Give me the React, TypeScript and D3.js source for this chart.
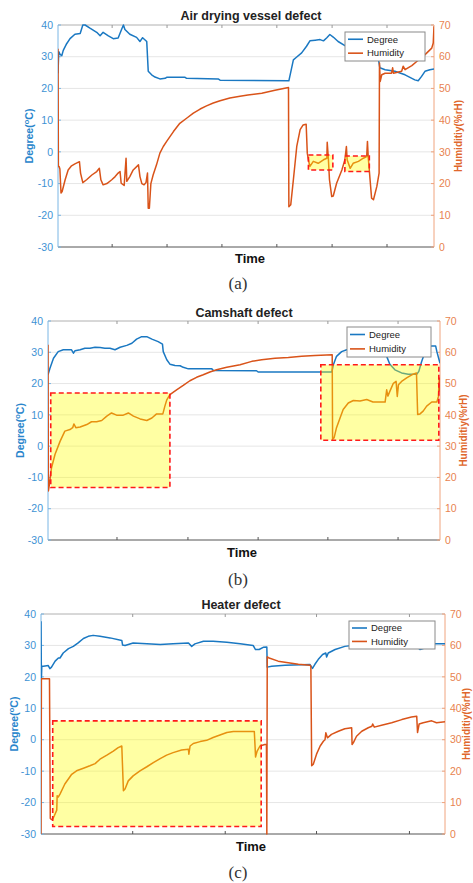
import React from "react";
import * as d3 from "d3";

const DEG_TICKS = [-30, -20, -10, 0, 10, 20, 30, 40];
const HUM_TICKS = [0, 10, 20, 30, 40, 50, 60, 70];
const SERIES_NAMES = ["Degree", "Humidity"];
const TITLES = ["Air drying vessel defect", "Camshaft defect", "Heater defect"];
const CAPTIONS = ["(a)", "(b)", "(c)"];
const TIME_LABEL = "Time";
const X_TICKS_A = [14.4, 29, 43.6, 58.2, 72.9, 87.5];
const X_TICKS_B = [17.6, 35.7, 53.6, 71.4, 89.3];
const X_TICKS_C = [22.7, 45.6, 68.2, 91.2];

type P = [number, number];

const degreeA: P[] = [
  [0, 24.8], [0.2, 31.6], [0.5, 30.8], [1.0, 30.3], [1.4, 32], [2.3, 34.1], [3.2, 35.7], [4.5, 37.1],
  [5.9, 37.3], [6.6, 40], [7.2, 40], [8.5, 39], [10.3, 37.7], [11.2, 36.6], [12.0, 37.7], [13.4, 36.6],
  [14.7, 35.7], [16.0, 35.9], [16.9, 38.6], [17.4, 40], [17.8, 38.6], [19.1, 37.1], [20.9, 36.1],
  [21.8, 34.8], [22.5, 36], [23.6, 34.8], [24.0, 25.4], [24.9, 24.3], [25.8, 23.6], [27.1, 23],
  [28.5, 23.2], [28.9, 23.5], [33.8, 23.5], [34.2, 23.2], [42.6, 23], [43.1, 22.6], [61.4, 22.4],
  [62.6, 29], [63.5, 29.9], [64.8, 31.2], [66.1, 33.3], [67.0, 35], [68.4, 35.2], [69.7, 35.4],
  [70.6, 35], [71.5, 36], [72.3, 37], [73.2, 36.2], [74.5, 34.8], [76.3, 33.5], [81.6, 31], [85.1, 30],
  [85.6, 26.5], [87.0, 25.9], [89.6, 25.4], [92.3, 24.3], [94.9, 22.7], [95.8, 22.4], [96.7, 23.8],
  [97.6, 25.4], [98.9, 25.9], [100, 26.1],
];

const humidityA: P[] = [
  [0, 62.5], [0.1, 25.4], [0.3, 25.4], [0.5, 24.6], [0.8, 17], [1.1, 17.5], [1.9, 21.2], [2.7, 24.3],
  [3.6, 25.6], [4.5, 26.2], [5.7, 26.9], [6.0, 23.3], [6.6, 20.3], [7.6, 21.2], [9.0, 22.7], [10.3, 23.8],
  [11.0, 24.8], [11.4, 21.2], [12.0, 19.6], [13.0, 20], [14.3, 21.2], [15.2, 22.2], [16.0, 23.3],
  [16.5, 23.8], [16.8, 20.1], [17.6, 19.4], [18.1, 28], [18.3, 20.7], [19.1, 22.2], [20.0, 24.3],
  [21.4, 25.9], [21.8, 22.2], [22.3, 20], [22.9, 19.6], [23.4, 20.3], [23.8, 23.3], [24.0, 12.2],
  [24.3, 12.2], [24.7, 20], [25.3, 22.7], [26.2, 25.9], [27.1, 29.6], [28.0, 31.7], [28.9, 33.3],
  [30.7, 36.4], [32.4, 39], [34.2, 40.6], [36.0, 42.2], [37.8, 43.5], [39.5, 44.5], [41.3, 45.4],
  [43.1, 46.1], [45.7, 47], [48.4, 47.5], [50.5, 47.9], [54.2, 48.5], [57.7, 49.4], [61.3, 50.3],
  [61.4, 12.7], [61.9, 13.3], [62.6, 21.2], [63.5, 31.7], [64.4, 37], [65.2, 38.5], [66.0, 38.7],
  [66.3, 29.6], [66.6, 27.5], [67.0, 25.4], [67.9, 27], [69.2, 26.4], [70.6, 27.5], [71.5, 28],
  [71.6, 33], [71.9, 28], [72.2, 21.2], [72.8, 15.9], [73.2, 16.1], [74.1, 20.1], [75.5, 24.3],
  [76.3, 27.5], [76.7, 31.7], [76.9, 27.5], [77.7, 24.8], [78.5, 26.4], [79.9, 27], [81.2, 28],
  [82.1, 28.5], [82.3, 33.3], [82.5, 28.5], [83.0, 21.2], [83.4, 15.4], [83.9, 14.9], [84.8, 19.1],
  [85.4, 23.3], [85.5, 58], [85.7, 52.2], [86.1, 54.3], [87.0, 54.8], [88.7, 54.8], [89.0, 56.5],
  [89.2, 54.8], [91.4, 55.4], [91.8, 57], [92.3, 55.9], [94.1, 57.2], [95.4, 58.5], [96.7, 59.6],
  [98.1, 61.2], [99.4, 62.7], [99.8, 64.3], [100, 69.6],
];

const degreeB: P[] = [
  [0, 22.8], [0.5, 24.9], [1.4, 28.1], [2.6, 30.2], [3.9, 30.8], [6.0, 30.8], [6.5, 29.7], [6.9, 30.5],
  [8.2, 30.8], [9.4, 31.3], [10.7, 31.3], [12.0, 31.6], [13.3, 31.5], [14.5, 31.3], [15.8, 31.3],
  [17.1, 30.8], [18.4, 31.6], [20.1, 32.2], [21.4, 32.9], [22.6, 34.2], [23.9, 35], [25.2, 35],
  [26.5, 34.2], [28.1, 33.4], [29.2, 32.6], [29.4, 30.2], [30.3, 27.6], [31.1, 26.2], [32.4, 25.8],
  [33.7, 25.7], [34.5, 25.2], [35.8, 24.7], [41.8, 24.7], [42.2, 24.2], [53.2, 24.1], [53.6, 23.7],
  [72.4, 23.7], [72.8, 26], [73.6, 28.7], [74.9, 30.2], [76.2, 30.8], [79.6, 31], [84.2, 31],
  [85.5, 30.5], [86.4, 28.7], [87.2, 26.2], [88.5, 24.4], [90.2, 23.4], [91.9, 23], [94.1, 23],
  [94.6, 23.9], [95.3, 27], [96.2, 30.2], [96.6, 31.8], [97.9, 32], [98.9, 32], [99.2, 30.2], [100, 26.5],
];

const humidityB: P[] = [
  [0, 62.4], [0.1, 15.7], [0.3, 17.3], [0.9, 23.1], [1.8, 27.4], [3.1, 31.6], [4.3, 34.8], [5.6, 35.3],
  [6.3, 35.9], [6.6, 37.1], [7.1, 35.9], [8.2, 36.1], [9.9, 36.9], [11.1, 37.8], [12.4, 37.8],
  [13.7, 38.2], [15.0, 39.6], [16.2, 40.6], [17.5, 39.9], [19.2, 39.9], [20.5, 40.6], [21.8, 39.6],
  [23.5, 38.7], [25.2, 38.2], [26.5, 39], [27.7, 40.3], [28.6, 40.3], [29.3, 40.3], [29.8, 42.7],
  [30.3, 44.8], [31.1, 46.5], [32.8, 48], [34.5, 49.4], [36.2, 50.9], [37.9, 52], [39.6, 52.8],
  [41.3, 53.7], [43.0, 54.4], [45.6, 55.2], [49.0, 56], [52.0, 57.1], [54.5, 57.6], [57.9, 58.1],
  [61.3, 58.3], [64.7, 58.7], [68.1, 59], [72.5, 59.2], [72.6, 32.2], [73.0, 32.7], [73.6, 35.9],
  [74.5, 39], [75.3, 41.7], [76.6, 43.8], [77.9, 44.6], [79.6, 44.4], [81.3, 44.9], [82.9, 44.1],
  [86.0, 44.1], [86.4, 48], [86.7, 46], [87.2, 47.5], [88.1, 50.1], [88.8, 50.7], [89.1, 45.9],
  [89.4, 49.6], [90.2, 50.7], [91.5, 51.8], [92.8, 52.8], [94.0, 53.4], [94.3, 40.1], [94.9, 40.3],
  [95.7, 41.2], [96.6, 42.8], [97.9, 44.1], [99.2, 44.1], [99.6, 45.9], [99.8, 51.8], [100, 47.5],
];

const degreeC: P[] = [
  [0, 37.7], [0.1, 19.3], [0.2, 23.4], [0.6, 23.4], [1.8, 23.6], [2.2, 22.6], [2.6, 23.1], [3.5, 25],
  [4.3, 26], [4.7, 26], [5.5, 27.6], [6.8, 29], [8.0, 29.7], [9.2, 30.8], [10.5, 32.2], [11.7, 32.9],
  [12.9, 33.2], [14.6, 32.9], [17.1, 32.4], [20.0, 31.6], [20.2, 30.1], [20.8, 30], [22.8, 30.8],
  [26.2, 30.5], [29.5, 30.3], [32.7, 30.5], [36.5, 30.8], [37.3, 29.7], [38.1, 30.5], [40.2, 31.3],
  [42.6, 31.3], [46.0, 31], [49.3, 30.5], [52.5, 30], [53.1, 28.7], [54.0, 28.7], [55.0, 29.4],
  [55.9, 29.5], [56.0, 23.1], [57.1, 23.4], [60.4, 23.7], [66.6, 23.9], [67.2, 22.7], [67.8, 24],
  [68.6, 25.5], [69.7, 27.1], [70.5, 27.6], [70.7, 26.3], [71.1, 27.6], [72.8, 28.7], [75.2, 29.7],
  [78.9, 30.3], [88.9, 30.3], [92.6, 30], [93.8, 28.7], [94.6, 29], [95.5, 30.3], [97.5, 30.5], [100, 30.5],
];

const humidityC: P[] = [
  [0, 0], [0.1, 49.4], [2.1, 49.4], [2.3, 5], [2.4, 4.8], [2.8, 4.5], [3.3, 5.8], [3.9, 7.6], [4.0, 12.2],
  [4.3, 11.8], [4.7, 12.7], [5.9, 15.9], [7.6, 19], [8.8, 20.1], [10.5, 20.9], [12.1, 21.7], [13.4, 22.4],
  [14.6, 23.8], [16.3, 25.1], [17.9, 26.4], [19.1, 27.5], [20.0, 28], [20.4, 13.8], [20.8, 14.3],
  [21.6, 16.9], [22.8, 18.5], [24.5, 20.1], [26.2, 21.4], [27.8, 22.7], [29.5, 24], [31.1, 25.1],
  [32.7, 25.9], [34.8, 26.7], [36.5, 27], [36.6, 25.4], [36.9, 28], [37.7, 28.8], [39.4, 29.4],
  [41.0, 29.8], [42.6, 30.7], [44.3, 31.5], [46.0, 32.3], [47.6, 32.6], [52.8, 32.6], [53.0, 27.5],
  [53.1, 24.5], [53.5, 26.4], [54.2, 28], [55.4, 28.5], [55.8, 28.5], [55.9, 0], [56.0, 56.4],
  [56.3, 56.1], [58.7, 55], [61.2, 54.5], [63.7, 54], [66.6, 53.7], [66.8, 53.4], [67.0, 21.7],
  [67.4, 22.2], [68.2, 25.4], [69.1, 28], [69.9, 29.5], [70.3, 30], [70.5, 32.2], [70.9, 30.6],
  [71.9, 31.7], [73.6, 32.7], [75.2, 33.5], [76.9, 33.8], [77.0, 28.5], [77.3, 29], [78.1, 31.1],
  [79.4, 32.7], [81.0, 33.8], [81.9, 34.3], [82.1, 35], [82.5, 34], [84.3, 34.6], [86.8, 35.4],
  [89.3, 36.4], [91.7, 37.2], [93.0, 37.5], [93.2, 32.3], [93.6, 35], [94.6, 35.4], [96.7, 36],
  [97.9, 35.4], [100, 35.7],
];

type Box = { t0: number; t1: number; axis: "deg" | "hum"; v0: number; v1: number };
const boxesA: Box[] = [
  { t0: 66.6, t1: 73.1, axis: "hum", v0: 24.3, v1: 29 },
  { t0: 76.3, t1: 82.8, axis: "hum", v0: 23.8, v1: 28.7 },
];
const boxesB: Box[] = [
  { t0: 0.7, t1: 31.1, axis: "deg", v0: -13.2, v1: 17 },
  { t0: 69.6, t1: 99.7, axis: "hum", v0: 31.9, v1: 56 },
];
const boxesC: Box[] = [{ t0: 2.9, t1: 54.5, axis: "deg", v0: -27.6, v1: 6 }];

const BLUE = "#1a78c2";
const ORANGE = "#d95319";
const BLUE_TXT = "#3d92d4";
const ORANGE_TXT = "#e8834f";
const FONT = "'Liberation Sans', Arial, sans-serif";

type Layout = {
  left: number; right: number; top: number; bottom: number;
  titleX: number; titleY: number; timeX: number; timeY: number; capY: number;
  ylabX: number; yrlabX: number;
  legend: { x: number; y: number; w: number; h: number };
};

const LAYOUTS: Layout[] = [
  { left: 58, right: 434, top: 25, bottom: 247, titleX: 251, titleY: 20, timeX: 250, timeY: 263, capY: 289, ylabX: 29, yrlabX: 458, legend: { x: 345, y: 32, w: 80, h: 29 } },
  { left: 48, right: 440, top: 321, bottom: 540, titleX: 244, titleY: 317, timeX: 242, timeY: 557, capY: 585, ylabX: 20, yrlabX: 463, legend: { x: 347, y: 327, w: 84, h: 30 } },
  { left: 41, right: 445, top: 614, bottom: 834, titleX: 241, titleY: 609, timeX: 251, timeY: 851, capY: 878, ylabX: 14, yrlabX: 466.5, legend: { x: 349, y: 621, w: 86, h: 28 } },
];

function Panel(props: {
  idx: number; L: Layout; deg: P[]; hum: P[]; xticks: number[]; boxes: Box[];
}) {
  const { idx, L, deg, hum, xticks, boxes } = props;
  const x = d3.scaleLinear().domain([0, 100]).range([L.left, L.right]);
  const yD = d3.scaleLinear().domain([-30, 40]).range([L.bottom, L.top]);
  const yH = d3.scaleLinear().domain([0, 70]).range([L.bottom, L.top]);
  const lineD = d3.line<P>().x((d) => x(d[0])).y((d) => yD(d[1]));
  const lineH = d3.line<P>().x((d) => x(d[0])).y((d) => yH(d[1]));
  const clipId = `clip${idx}`;
  const cy = (L.top + L.bottom) / 2;
  const lg = L.legend;
  return (
    <g fontFamily={FONT}>
      <defs>
        <clipPath id={clipId}>
          <rect x={L.left} y={L.top - 1} width={L.right - L.left} height={L.bottom - L.top + 2} />
        </clipPath>
      </defs>
      {DEG_TICKS.slice(1, -1).map((t) => (
        <line key={"g" + t} x1={L.left} x2={L.right} y1={yD(t)} y2={yD(t)} stroke="#e6e6e6" strokeWidth={1} />
      ))}
      <text x={L.titleX} y={L.titleY} textAnchor="middle" fontSize={12.5} fontWeight="bold" fill="#222">
        {TITLES[idx]}
      </text>
      <line x1={L.left} x2={L.right} y1={L.top} y2={L.top} stroke="#b0b0b0" strokeWidth={1} />
      <line x1={L.left} x2={L.right} y1={L.bottom} y2={L.bottom} stroke="#555" strokeWidth={1} />
      <line x1={L.left} x2={L.left} y1={L.top} y2={L.bottom} stroke="#7ab6e4" strokeWidth={1} />
      <line x1={L.right} x2={L.right} y1={L.top} y2={L.bottom} stroke="#f0a47e" strokeWidth={1} />
      {xticks.map((t) => (
        <g key={"x" + t}>
          <line x1={x(t)} x2={x(t)} y1={L.bottom} y2={L.bottom - 3} stroke="#555" />
          <line x1={x(t)} x2={x(t)} y1={L.top} y2={L.top + 3} stroke="#999" />
        </g>
      ))}
      {DEG_TICKS.map((t) => (
        <g key={"yd" + t}>
          <line x1={L.left} x2={L.left + 3} y1={yD(t)} y2={yD(t)} stroke="#7ab6e4" />
          <text x={L.left - 5} y={yD(t)} dy="0.35em" textAnchor="end" fontSize={10.5} fill={BLUE_TXT}>
            {t}
          </text>
        </g>
      ))}
      {HUM_TICKS.map((t) => (
        <g key={"yh" + t}>
          <line x1={L.right} x2={L.right - 3} y1={yH(t)} y2={yH(t)} stroke="#f0a47e" />
          <text x={L.right + 5} y={yH(t)} dy="0.35em" textAnchor="start" fontSize={10.5} fill={ORANGE_TXT}>
            {t}
          </text>
        </g>
      ))}
      <text transform={`translate(${L.ylabX},${cy}) rotate(-90)`} textAnchor="middle" dy="0.35em" fontSize={10.5} fontWeight="bold" fill="#2a86cc">
        Degree(<tspan fontSize={7.5} dy="-4">o</tspan><tspan dy="4">C)</tspan>
      </text>
      <text transform={`translate(${L.yrlabX},${cy}) rotate(-90)`} textAnchor="middle" dy="0.35em" fontSize={10} fontWeight="bold" fill="#e0672c">
        Humiditiy(%rH)
      </text>
      <text x={L.timeX} y={L.timeY} textAnchor="middle" fontSize={13} fontWeight="bold" fill="#111">
        {TIME_LABEL}
      </text>
      <text x={238} y={L.capY} textAnchor="middle" fontSize={17} fontFamily="'Liberation Serif', 'DejaVu Serif', serif" fill="#333">
        {CAPTIONS[idx]}
      </text>
      <g clipPath={`url(#${clipId})`}>
        <path d={lineD(deg) || ""} fill="none" stroke={BLUE} strokeWidth={1.5} strokeLinejoin="round" />
        <path d={lineH(hum) || ""} fill="none" stroke={ORANGE} strokeWidth={1.5} strokeLinejoin="round" />
      </g>
      {boxes.map((b, i) => {
        const ys = b.axis === "deg" ? yD : yH;
        return (
          <rect key={"b" + i} x={x(b.t0)} y={ys(b.v1)} width={x(b.t1) - x(b.t0)} height={ys(b.v0) - ys(b.v1)}
            fill="#ffff00" fillOpacity={0.36} stroke="#ff1a1a" strokeWidth={1.6} strokeDasharray="5,3" />
        );
      })}
      <rect x={lg.x} y={lg.y} width={lg.w} height={lg.h} fill="#fff" stroke="#8a8a8a" strokeWidth={1} />
      {SERIES_NAMES.map((n, i) => {
        const yy = lg.y + lg.h * (i === 0 ? 0.25 : 0.73);
        return (
          <g key={n}>
            <line x1={lg.x + 3} x2={lg.x + 18} y1={yy} y2={yy} stroke={i === 0 ? BLUE : ORANGE} strokeWidth={1.6} />
            <text x={lg.x + 22} y={yy} dy="0.35em" fontSize={9.5} fill="#222">{n}</text>
          </g>
        );
      })}
    </g>
  );
}

export default function App() {
  return (
    <svg width={473} height={883} style={{ position: "absolute", left: 0, top: 0, background: "#fff" }}>
      <Panel idx={0} L={LAYOUTS[0]} deg={degreeA} hum={humidityA} xticks={X_TICKS_A} boxes={boxesA} />
      <Panel idx={1} L={LAYOUTS[1]} deg={degreeB} hum={humidityB} xticks={X_TICKS_B} boxes={boxesB} />
      <Panel idx={2} L={LAYOUTS[2]} deg={degreeC} hum={humidityC} xticks={X_TICKS_C} boxes={boxesC} />
    </svg>
  );
}
